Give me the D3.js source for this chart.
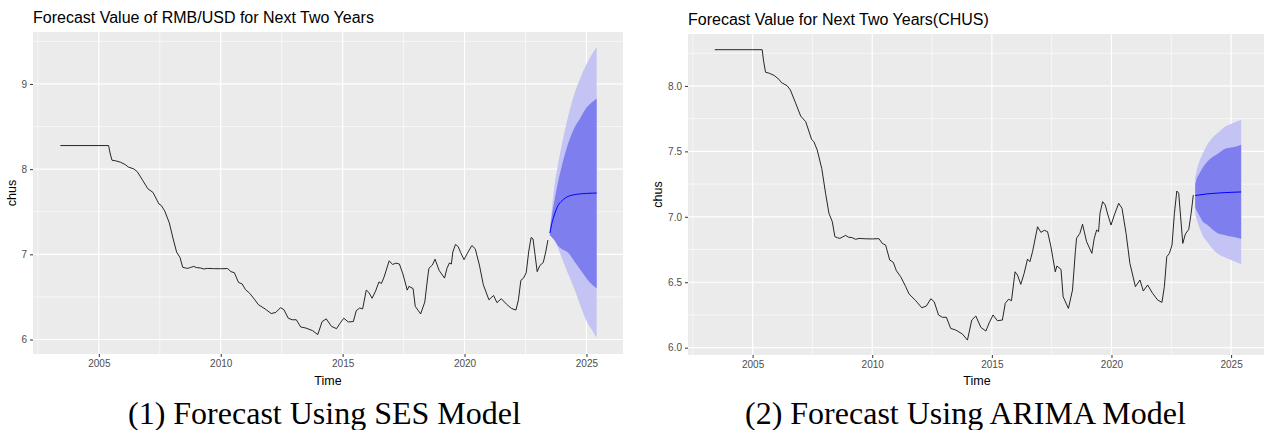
<!DOCTYPE html>
<html lang="en">
  <head>
    <meta charset="utf-8">
    <title>Forecast</title>
    <script src="https://cdn.jsdelivr.net/npm/d3@7"></script>
    <style>
      body { margin: 0; background: #fff; }
      .panel { fill: #EBEBEB; }
      .major { stroke: #fff; stroke-width: 1.2; }
      .minor { stroke: #fff; stroke-width: 0.6; }
      .hist { fill: none; stroke: #111; stroke-width: 0.9; }
      .fcLine { fill: none; stroke: #0000FF; stroke-width: 1; }
      .band95 { fill: #C4C4F4; stroke: none; }
      .band80 { fill: #7E7EEF; stroke: none; }
      .axis text { font-family: "Liberation Sans", Arial, sans-serif; font-size: 10px; fill: #4D4D4D; }
      .axis line { stroke: #333; }
      .title { font-family: "Liberation Sans", Arial, sans-serif; font-size: 16px; fill: #000; }
      .lab { font-family: "Liberation Sans", Arial, sans-serif; font-size: 12.5px; fill: #000; }
      .caption { font-family: "Liberation Serif", "Times New Roman", serif; font-size: 32px; fill: #000; }
    </style>
  </head>
  <body>
    <script>
      // monthly RMB/USD (chus)
      var histTime = [2003.42, 2005.40, 2005.46, 2005.54, 2005.70, 2005.90, 2006.10, 2006.21, 2006.44, 2006.58,
        2006.80, 2007.01, 2007.22, 2007.47, 2007.56, 2007.70, 2007.89, 2008.05, 2008.19, 2008.33,
        2008.44, 2008.55, 2008.65, 2008.75, 2008.89, 2009.00, 2009.17, 2009.31, 2009.45, 2009.70,
        2010.00, 2010.28, 2010.42, 2010.56, 2010.73, 2010.88, 2011.01, 2011.19, 2011.40, 2011.54,
        2011.82, 2012.07, 2012.26, 2012.45, 2012.59, 2012.77, 2012.93, 2013.10, 2013.28, 2013.49,
        2013.77, 2013.98, 2014.16, 2014.33, 2014.54, 2014.75, 2014.89, 2015.05, 2015.23, 2015.44,
        2015.56, 2015.70, 2015.82, 2015.97, 2016.07, 2016.21, 2016.35, 2016.49, 2016.59, 2016.70,
        2016.91, 2017.05, 2017.19, 2017.33, 2017.47, 2017.65, 2017.72, 2017.89, 2017.98, 2018.20,
        2018.37, 2018.49, 2018.54, 2018.68, 2018.79, 2018.96, 2019.18, 2019.28, 2019.38, 2019.46,
        2019.52, 2019.63, 2019.74, 2019.84, 2019.98, 2020.12, 2020.30, 2020.44, 2020.61, 2020.77,
        2021.00, 2021.19, 2021.33, 2021.51, 2021.72, 2021.93, 2022.11, 2022.21, 2022.31, 2022.42,
        2022.53, 2022.63, 2022.73, 2022.81, 2022.98, 2023.09, 2023.23, 2023.33, 2023.42];
      var histValue = [8.277, 8.277, 8.19, 8.105, 8.097, 8.08, 8.051, 8.025, 8.002, 7.969,
        7.868, 7.77, 7.727, 7.59, 7.574, 7.511, 7.37, 7.18, 7.027, 6.963,
        6.848, 6.84, 6.835, 6.845, 6.858, 6.845, 6.84, 6.828, 6.835, 6.832,
        6.831, 6.833, 6.797, 6.784, 6.67, 6.652, 6.588, 6.542, 6.466, 6.41,
        6.359, 6.305, 6.318, 6.374, 6.351, 6.25, 6.232, 6.232, 6.147, 6.135,
        6.104, 6.058, 6.211, 6.242, 6.155, 6.127, 6.19, 6.25, 6.206, 6.211,
        6.339, 6.37, 6.359, 6.58, 6.555, 6.484, 6.568, 6.677, 6.657, 6.733,
        6.924, 6.881, 6.897, 6.886, 6.771, 6.58, 6.624, 6.598, 6.389, 6.30,
        6.44, 6.733, 6.836, 6.874, 6.943, 6.81, 6.721, 6.836, 6.899, 6.886,
        7.027, 7.116, 7.09, 7.021, 6.937, 7.014, 7.103, 7.065, 6.874, 6.644,
        6.466, 6.517, 6.433, 6.479, 6.415, 6.364, 6.346, 6.466, 6.695, 6.721,
        6.784, 7.027, 7.197, 7.18, 6.797, 6.869, 6.904, 7.027, 7.167];

      var fcTime = [2023.50, 2023.58, 2023.67, 2023.83, 2024.00, 2024.25, 2024.50, 2024.75, 2025.00, 2025.25, 2025.42];

      var sesMean = [7.25, 7.36, 7.45, 7.57, 7.63, 7.68, 7.70, 7.71, 7.715, 7.718, 7.72];
      var sesHi80 = [7.28, 7.45, 7.60, 7.84, 8.05, 8.30, 8.48, 8.60, 8.72, 8.79, 8.83];
      var sesLo80 = [7.22, 7.20, 7.17, 7.10, 7.06, 7.02, 6.92, 6.82, 6.72, 6.64, 6.60];
      var sesHi95 = [7.30, 7.52, 7.76, 8.05, 8.30, 8.62, 8.88, 9.07, 9.23, 9.36, 9.43];
      var sesLo95 = [7.22, 7.23, 7.20, 7.08, 6.95, 6.77, 6.60, 6.40, 6.22, 6.10, 6.02];

      var arimaMean = [7.163, 7.165, 7.167, 7.171, 7.175, 7.179, 7.182, 7.185, 7.187, 7.189, 7.190];
      var arimaHi80 = [7.25, 7.30, 7.33, 7.38, 7.42, 7.46, 7.49, 7.52, 7.53, 7.54, 7.55];
      var arimaLo80 = [7.07, 7.04, 7.01, 6.96, 6.94, 6.90, 6.87, 6.86, 6.85, 6.84, 6.83];
      var arimaHi95 = [7.30, 7.37, 7.42, 7.49, 7.55, 7.61, 7.65, 7.69, 7.71, 7.73, 7.74];
      var arimaLo95 = [7.02, 6.97, 6.92, 6.85, 6.81, 6.75, 6.71, 6.69, 6.67, 6.65, 6.64];

      var xTicks = [2005, 2010, 2015, 2020, 2025];
      var xMinor = [2002.5, 2007.5, 2012.5, 2017.5, 2022.5];
      var sesYTicks = [6, 7, 8, 9];
      var sesYMinor = [6.5, 7.5, 8.5, 9.5];
      var arimaYTicks = [6.0, 6.5, 7.0, 7.5, 8.0];
      var arimaYMinor = [6.25, 6.75, 7.25, 7.75, 8.25];

      var titles = ["Forecast Value of RMB/USD for Next Two Years", "Forecast Value for Next Two Years(CHUS)"];
      var captions = ["(1) Forecast Using SES Model", "(2) Forecast Using ARIMA Model"];

      var w = 1264, h = 430;
      var svg = d3.select("body").append("svg").attr("width", w).attr("height", h);

      function zip(a, b) {
        return fcTime.map(function (t, i) { return { t: t, lo: a[i], hi: b[i] }; });
      }

      function drawPanel(p) {
        var xScale = d3.scaleLinear().domain([2002.3, 2026.5]).range([p.left, p.right]);
        var yScale = d3.scaleLinear().domain(p.yDomain).range([p.bottom, p.top]);
        var g = svg.append("g");

        g.append("rect").attr("class", "panel")
          .attr("x", p.left).attr("y", p.top)
          .attr("width", p.right - p.left).attr("height", p.bottom - p.top);

        g.selectAll(".ym").data(p.yMinor).enter().append("line").attr("class", "minor")
          .attr("x1", p.left).attr("x2", p.right)
          .attr("y1", function (d) { return yScale(d); }).attr("y2", function (d) { return yScale(d); });
        g.selectAll(".xm").data(xMinor).enter().append("line").attr("class", "minor")
          .attr("y1", p.top).attr("y2", p.bottom)
          .attr("x1", function (d) { return xScale(d); }).attr("x2", function (d) { return xScale(d); });
        g.selectAll(".yM").data(p.yTicks).enter().append("line").attr("class", "major")
          .attr("x1", p.left).attr("x2", p.right)
          .attr("y1", function (d) { return yScale(d); }).attr("y2", function (d) { return yScale(d); });
        g.selectAll(".xM").data(xTicks).enter().append("line").attr("class", "major")
          .attr("y1", p.top).attr("y2", p.bottom)
          .attr("x1", function (d) { return xScale(d); }).attr("x2", function (d) { return xScale(d); });

        var area = d3.area()
          .x(function (d) { return xScale(d.t); })
          .y0(function (d) { return yScale(d.lo); })
          .y1(function (d) { return yScale(d.hi); })
          .curve(d3.curveMonotoneX);
        g.append("path").datum(zip(p.lo95, p.hi95)).attr("class", "band95").attr("d", area);
        g.append("path").datum(zip(p.lo80, p.hi80)).attr("class", "band80").attr("d", area);

        var line = d3.line()
          .x(function (d) { return xScale(d[0]); })
          .y(function (d) { return yScale(d[1]); });
        g.append("path").datum(histTime.map(function (t, i) { return [t, histValue[i]]; }))
          .attr("class", "hist").attr("d", line);
        g.append("path").datum(fcTime.map(function (t, i) { return [t, p.mean[i]]; }))
          .attr("class", "fcLine").attr("d", line.curve(d3.curveMonotoneX));

        var xAxis = d3.axisBottom(xScale).tickValues(xTicks).tickSize(3).tickPadding(3).tickFormat(d3.format("d"));
        var yAxis = d3.axisLeft(yScale).tickValues(p.yTicks).tickSize(3).tickPadding(3).tickFormat(p.fmt);
        var gx = g.append("g").attr("class", "axis").attr("transform", "translate(0," + p.bottom + ")").call(xAxis);
        var gy = g.append("g").attr("class", "axis").attr("transform", "translate(" + p.left + ",0)").call(yAxis);
        gx.select(".domain").remove();
        gy.select(".domain").remove();
        gx.attr("font-size", null).attr("font-family", null);
        gy.attr("font-size", null).attr("font-family", null);

        svg.append("text").attr("class", "title").attr("x", p.left).attr("y", p.top - 9).text(p.title);
        svg.append("text").attr("class", "lab").attr("text-anchor", "middle")
          .attr("x", (p.left + Math.min(p.right, w)) / 2 + p.timeShift).attr("y", 385).text("Time");
        svg.append("text").attr("class", "lab").attr("text-anchor", "middle")
          .attr("transform", "translate(" + p.yLabX + "," + (p.top + p.bottom) / 2 + ") rotate(-90)")
          .text("chus");
        svg.append("text").attr("class", "caption").attr("x", p.capX).attr("y", 424).text(p.caption);
      }

      drawPanel({
        left: 33, right: 623, top: 32, bottom: 354, yDomain: [5.83, 9.61],
        yTicks: sesYTicks, yMinor: sesYMinor, fmt: d3.format("d"),
        mean: sesMean, lo80: sesLo80, hi80: sesHi80, lo95: sesLo95, hi95: sesHi95,
        title: titles[0], caption: captions[0], capX: 128, yLabX: 16, timeShift: 0
      });
      drawPanel({
        left: 688, right: 1267, top: 34, bottom: 355, yDomain: [5.944, 8.397],
        yTicks: arimaYTicks, yMinor: arimaYMinor, fmt: d3.format(".1f"),
        mean: arimaMean, lo80: arimaLo80, hi80: arimaHi80, lo95: arimaLo95, hi95: arimaHi95,
        title: titles[1], caption: captions[1], capX: 745, yLabX: 662, timeShift: 1
      });
    </script>
  </body>
</html>
